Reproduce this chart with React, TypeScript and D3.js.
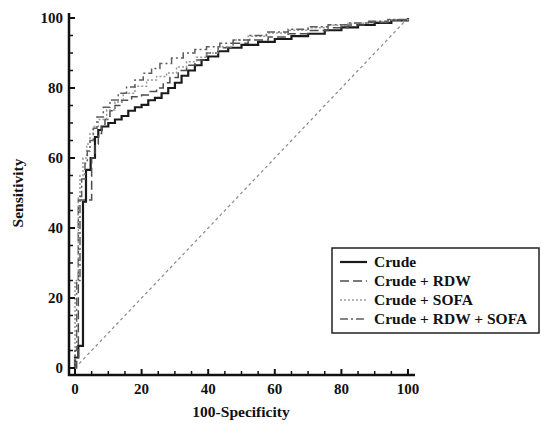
import React from "react";
import { scaleLinear, line, curveStepAfter, range } from "d3";

// ROC curves: [100-specificity, sensitivity]
const crude: [number, number][] = [
  [0, 0], [0, 3], [1, 6.3], [2.4, 47.5], [3.3, 56.6], [4.7, 60], [6, 66], [7, 68],
  [8, 69], [10, 70], [12, 71], [14, 72], [16, 73.5], [18, 74.5], [20, 75.2], [22, 76.5],
  [24, 77.2], [26, 78.5], [28, 80], [30, 81.5], [32, 83.5], [34, 85], [36, 86.5],
  [38, 88], [40, 89], [43, 90.5], [46, 91.5], [50, 92.3], [55, 93.2], [60, 94],
  [65, 94.8], [70, 95.5], [75, 96.5], [80, 97.3], [85, 98], [90, 98.6], [95, 99.3], [100, 100],
];
const crudeRdw: [number, number][] = [
  [0, 0], [0.5, 3], [1, 48], [5, 60], [6, 64], [7, 67], [8, 69], [9, 71], [10.5, 73.5],
  [12, 75], [14, 76.5], [17, 77.5], [20, 78], [22, 79], [24.5, 80], [26.5, 81.5],
  [28.5, 83], [31, 85], [33.5, 86.5], [36, 88], [39.5, 90], [43, 91.5], [47.5, 92.8],
  [52, 93.7], [58, 94.6], [64, 95.5], [70, 96.4], [76, 97.2], [82, 98], [88, 98.7],
  [94, 99.4], [100, 100],
];
const crudeSofa: [number, number][] = [
  [0, 0], [0, 25], [1, 49], [1.5, 55], [2.4, 60], [3.5, 64], [4.5, 67], [5.5, 69],
  [7, 71], [9.5, 73.7], [12, 76], [14.5, 78.5], [18, 80.5], [21.5, 82.3], [24.5, 83.3],
  [27.5, 84.3], [30.5, 86], [33.5, 87.5], [36.5, 88.8], [39.5, 90], [43, 91.8],
  [47.5, 93.7], [52, 94.8], [57.5, 95.7], [64, 96.5], [70, 97.2], [76, 97.9],
  [82, 98.5], [88, 99], [94, 99.5], [100, 100],
];
const crudeRdwSofa: [number, number][] = [
  [0, 0], [0, 5], [0.5, 25], [1.5, 49], [2, 54], [3, 58.5], [3.7, 62], [4.5, 65],
  [5.5, 68.5], [6.6, 71.7], [8.5, 74.5], [10.5, 76.6], [13, 78.5], [15.5, 80.3],
  [18, 82.3], [20.5, 84.2], [23, 85.6], [25.5, 87], [29, 88.6], [32.5, 90], [36, 91],
  [39.5, 91.8], [43.5, 92.8], [47.5, 93.7], [52.5, 95], [57.5, 96], [64, 96.8],
  [70, 97.5], [76, 98.1], [82, 98.6], [88, 99.1], [94, 99.6], [100, 100],
];
const diagonal: [number, number][] = [[0, 0], [100, 100]];

const seriesNames = ["Crude", "Crude + RDW", "Crude + SOFA", "Crude + RDW + SOFA"];
const majorTicks = [0, 20, 40, 60, 80, 100];

const font = "'Liberation Serif', 'Times New Roman', serif";

export default function App() {
  const width = 541;
  const height = 425;

  const x = scaleLinear().domain([0, 100]).range([75, 408]);
  const y = scaleLinear().domain([0, 100]).range([368, 18]);
  const axisX = 69; // y axis line is offset left of x=0
  const axisY = 375; // x axis line is offset below y=0

  const stepLine = line<[number, number]>()
    .x((d) => x(d[0]))
    .y((d) => y(d[1]))
    .curve(curveStepAfter);
  const straight = line<[number, number]>()
    .x((d) => x(d[0]))
    .y((d) => y(d[1]));

  const styles = [
    { stroke: "#1a1a1a", width: 2.2, dash: undefined as string | undefined },
    { stroke: "#4d4d4d", width: 1.5, dash: "9 4" },
    { stroke: "#999", width: 1.5, dash: "2 2" },
    { stroke: "#5e5e5e", width: 1.5, dash: "8 3 2 3" },
  ];
  const curves = [crude, crudeRdw, crudeSofa, crudeRdwSofa];

  const minor = range(0, 101, 5).filter((v) => v % 20 !== 0);

  const legend = { x: 332, y: 248, w: 207, h: 85, row: 19 };

  return (
    <svg
      width={width}
      height={height}
      style={{ position: "absolute", left: 0, top: 0, background: "#fff" }}
      fontFamily={font}
      fontWeight="bold"
    >
      <rect width={width} height={height} fill="#fff" />

      {/* chance line */}
      <path d={straight(diagonal) ?? ""} fill="none" stroke="#888" strokeWidth={1.2} strokeDasharray="3 3" />

      {curves.map((c, i) => (
        <path
          key={i}
          d={stepLine(c) ?? ""}
          fill="none"
          stroke={styles[i].stroke}
          strokeWidth={styles[i].width}
          strokeDasharray={styles[i].dash}
        />
      ))}

      {/* axes */}
      <line x1={axisX} x2={axisX} y1={13} y2={axisY + 1} stroke="#111" strokeWidth={2.5} />
      <line x1={axisX - 1} x2={415} y1={axisY} y2={axisY} stroke="#111" strokeWidth={2.5} />

      {majorTicks.map((t) => (
        <g key={"y" + t}>
          <line x1={axisX} x2={axisX + 6} y1={y(t)} y2={y(t)} stroke="#111" strokeWidth={2} />
          <text x={63} y={y(t)} dy="0.35em" textAnchor="end" fontSize={15} fill="#111">
            {t}
          </text>
        </g>
      ))}
      {minor.map((t) => (
        <line key={"ym" + t} x1={axisX} x2={axisX + 4} y1={y(t)} y2={y(t)} stroke="#111" strokeWidth={1.5} />
      ))}
      {majorTicks.map((t) => (
        <g key={"x" + t}>
          <line x1={x(t)} x2={x(t)} y1={axisY} y2={axisY - 6} stroke="#111" strokeWidth={2} />
          <text x={x(t)} y={394} textAnchor="middle" fontSize={15} fill="#111">
            {t}
          </text>
        </g>
      ))}
      {minor.map((t) => (
        <line key={"xm" + t} x1={x(t)} x2={x(t)} y1={axisY} y2={axisY - 4} stroke="#111" strokeWidth={1.5} />
      ))}

      <text x={241} y={417} textAnchor="middle" fontSize={15.5} fill="#111">
        100-Specificity
      </text>
      <text
        transform={`translate(23, 193) rotate(-90)`}
        textAnchor="middle"
        fontSize={15.5}
        fill="#111"
      >
        Sensitivity
      </text>

      {/* legend */}
      <rect x={legend.x} y={legend.y} width={legend.w} height={legend.h} fill="#fff" stroke="#222" strokeWidth={1.5} />
      {seriesNames.map((name, i) => {
        const cy = legend.y + 14 + i * legend.row;
        return (
          <g key={name}>
            <line
              x1={legend.x + 8}
              x2={legend.x + 35}
              y1={cy}
              y2={cy}
              stroke={styles[i].stroke}
              strokeWidth={styles[i].width}
              strokeDasharray={styles[i].dash}
            />
            <text x={legend.x + 42} y={cy} dy="0.35em" fontSize={15.5} fill="#111">
              {name}
            </text>
          </g>
        );
      })}
    </svg>
  );
}
